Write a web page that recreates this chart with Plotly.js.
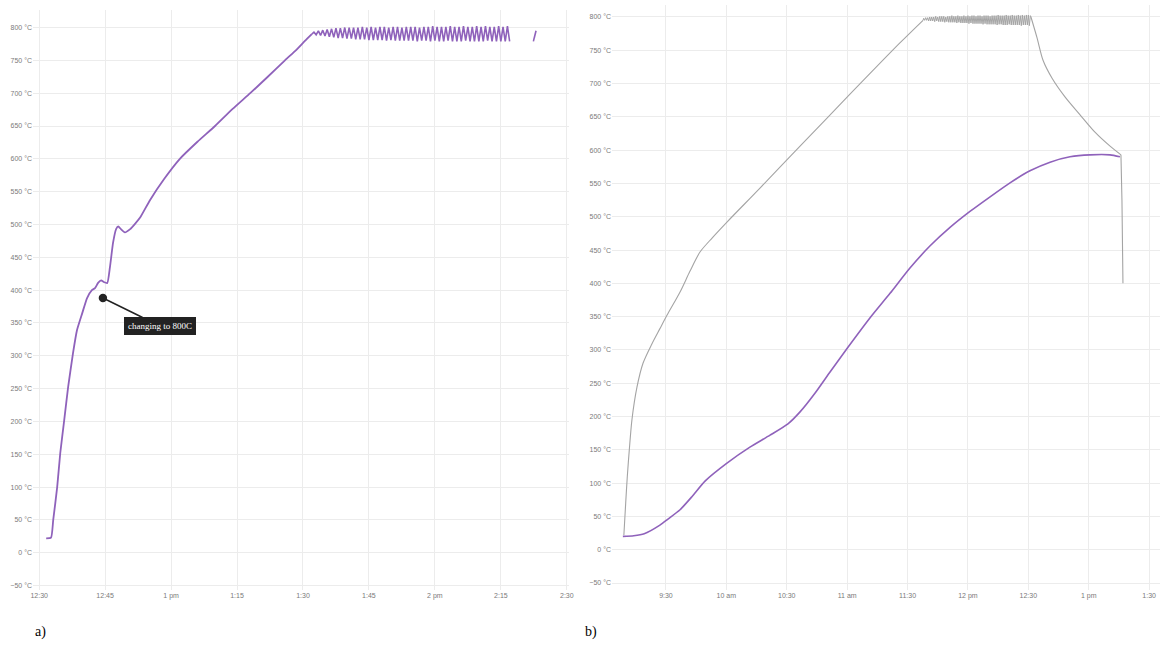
<!DOCTYPE html>
<html>
<head>
<meta charset="utf-8">
<script src="https://cdn.plot.ly/plotly-3.0.1.min.js"></script>
<style>
  html, body { margin: 0; padding: 0; background: #fff; }
  #chart { width: 1168px; height: 649px; }
</style>
</head>
<body>
<div id="chart"></div>
<script>
// ---- Run a): furnace log, minutes after 12:30 ----
const leftRampMin  = [1.6, 2.7, 3.2, 4.1, 4.8, 5.7, 6.6, 7.7, 8.6, 9.8, 10.9, 12.0, 12.7, 13.4, 14.1, 14.8, 15.5, 16.1, 16.8, 17.5, 18.0, 18.6, 19.5, 20.7, 21.8, 23.0, 25.2, 28.5, 32.0, 36.0, 40.0, 44.0, 48.0, 52.0, 55.9, 58.5, 60.5, 62.0];
const leftRampTemp = [22, 23, 50, 100, 152, 202, 253, 304, 339, 365, 388, 400, 403, 411, 415, 412, 411, 435, 472, 493, 497, 493, 488, 493, 501, 511, 537, 570, 600, 626, 650, 676, 700, 725, 750, 766, 780, 790];

const leftHoldMin = [62.5, 63, 63.5, 64, 64.5, 65, 65.5, 66, 66.5, 67, 67.5, 68, 68.5, 69, 69.5, 70, 70.5, 71, 71.5, 72, 72.5, 73, 73.5, 74, 74.5, 75, 75.5, 76, 76.5, 77, 77.5, 78, 78.5, 79, 79.5, 80, 80.5, 81, 81.5, 82, 82.5, 83, 83.5, 84, 84.5, 85, 85.5, 86, 86.5, 87, 87.5, 88, 88.5, 89, 89.5, 90, 90.5, 91, 91.5, 92, 92.5, 93, 93.5, 94, 94.5, 95, 95.5, 96, 96.5, 97, 97.5, 98, 98.5, 99, 99.5, 100, 100.5, 101, 101.5, 102, 102.5, 103, 103.5, 104, 104.5, 105, 105.5, 106, 106.5, 107];
const leftHoldTemp = [793, 789, 795, 788, 796, 787, 797, 786, 798, 785, 799, 784, 799, 784, 800, 783, 800, 783, 800, 782, 800, 782, 801, 782, 800, 781, 801, 781, 800, 781, 801, 781, 801, 780, 800, 781, 801, 780, 801, 780, 800, 780, 801, 780, 801, 780, 801, 779, 800, 780, 801, 780, 801, 779, 802, 780, 801, 779, 801, 779, 801, 780, 802, 779, 801, 779, 801, 779, 802, 780, 801, 779, 801, 779, 802, 779, 801, 779, 802, 780, 801, 779, 801, 779, 802, 779, 801, 779, 802, 779];

const leftTailMin  = [112.4, 113.0];
const leftTailTemp = [779, 795];

const leftTickMin  = [0, 15, 30, 45, 60, 75, 90, 105, 120];
const leftTickText = ['12:30', '12:45', '1 pm', '1:15', '1:30', '1:45', '2 pm', '2:15', '2:30'];

const noteMin  = 14.5;
const noteTemp = 388;
const noteText = 'changing to 800C';

// ---- Run b): furnace (grey) and sample (purple), minutes after 9:00 ----
const furnaceRampMin  = [9.1, 10.0, 10.8, 11.8, 13.1, 15.6, 18.6, 23.0, 27.0, 30.5, 37.0, 41.9, 46.9, 52.9, 60.3, 76.7, 96.6, 121.4, 146.2, 157.7];
const furnaceRampTemp = [22, 70, 110, 150, 195, 244, 280, 309, 332, 352, 387, 418, 447, 468, 492, 543, 606, 684, 761, 795];

const furnaceHoldMin = [158, 158.5, 159, 159.5, 160, 160.5, 161, 161.5, 162, 162.5, 163, 163.5, 164, 164.5, 165, 165.5, 166, 166.5, 167, 167.5, 168, 168.5, 169, 169.5, 170, 170.5, 171, 171.5, 172, 172.5, 173, 173.5, 174, 174.5, 175, 175.5, 176, 176.5, 177, 177.5, 178, 178.5, 179, 179.5, 180, 180.5, 181, 181.5, 182, 182.5, 183, 183.5, 184, 184.5, 185, 185.5, 186, 186.5, 187, 187.5, 188, 188.5, 189, 189.5, 190, 190.5, 191, 191.5, 192, 192.5, 193, 193.5, 194, 194.5, 195, 195.5, 196, 196.5, 197, 197.5, 198, 198.5, 199, 199.5, 200, 200.5, 201, 201.5, 202, 202.5, 203, 203.5, 204, 204.5, 205, 205.5, 206, 206.5, 207, 207.5, 208, 208.5, 209, 209.5, 210, 210.5, 211];
const furnaceHoldTemp = [798, 795, 799, 795, 799, 794, 800, 794, 800, 794, 800, 793, 801, 794, 800, 793, 801, 793, 801, 793, 801, 792, 800, 793, 801, 792, 801, 792, 802, 792, 801, 792, 801, 791, 802, 792, 801, 791, 801, 791, 802, 791, 801, 791, 802, 790, 801, 791, 802, 790, 802, 790, 801, 790, 802, 790, 802, 790, 801, 789, 802, 790, 802, 789, 802, 789, 801, 789, 802, 789, 802, 789, 802, 788, 803, 789, 802, 789, 802, 788, 802, 788, 803, 788, 802, 789, 802, 788, 803, 788, 802, 788, 802, 788, 803, 788, 802, 787, 803, 788, 802, 788, 803, 788, 803, 787, 802];

const furnaceCoolMin  = [211.3, 214.3, 217.3, 221.8, 228.2, 235.7, 243.1, 250.6, 256.0];
const furnaceCoolTemp = [800, 769, 735, 708, 680, 653, 627, 606, 593];

const furnaceDropMin  = [256.0, 256.5, 257.0];
const furnaceDropTemp = [593, 525, 400];

const sampleMin  = [8.6, 14.0, 19.2, 27.0, 31.0, 37.0, 43.0, 49.4, 60.3, 71.7, 81.7, 90.6, 96.6, 104.0, 111.5, 120.4, 131.3, 141.3, 151.2, 161.1, 171.1, 181.0, 191.0, 200.9, 210.8, 220.8, 230.7, 240.6, 250.6, 255.5];
const sampleTemp = [20, 21, 24, 37, 46, 60, 80, 103, 130, 154, 172, 189, 207, 235, 267, 304, 348, 385, 423, 456, 484, 508, 530, 551, 569, 582, 590, 593, 593, 590];

const rightTickMin  = [30, 60, 90, 120, 150, 180, 210, 240, 270];
const rightTickText = ['9:30', '10 am', '10:30', '11 am', '11:30', '12 pm', '12:30', '1 pm', '1:30'];

// ---- helpers ----
const LEFT_START  = Date.UTC(2020, 0, 1, 12, 30);
const RIGHT_START = Date.UTC(2020, 0, 1, 9, 0);
const at = (start, m) => (m === null ? null : start + m * 60000);
const last = a => a[a.length - 1];

const W = 1168, H = 649;
const px = v => v / W;
const py = v => 1 - v / H;

const PURPLE = '#8f62bb';
const GREY = '#a4a4a4';
const GRID = '#ececec';
const tickFont = { family: 'Liberation Sans, Arial, sans-serif', size: 7, color: '#7a7a7a' };

function lineTrace(mins, temps, start, axis, color, width, smooth) {
  const line = { color: color, width: width };
  if (smooth) { line.shape = 'spline'; line.smoothing = smooth; }
  return {
    x: mins.map(m => at(start, m)), y: temps,
    xaxis: axis[0], yaxis: axis[1],
    type: 'scatter', mode: 'lines', line: line,
    hoverinfo: 'skip', showlegend: false
  };
}

const A = ['x', 'y'], B = ['x2', 'y2'];

const traces = [
  // run a)
  lineTrace(leftRampMin, leftRampTemp, LEFT_START, A, PURPLE, 1.8, 0.5),
  lineTrace([last(leftRampMin)].concat(leftHoldMin, [null], leftTailMin),
            [last(leftRampTemp)].concat(leftHoldTemp, [null], leftTailTemp),
            LEFT_START, A, PURPLE, 1.6, 0),
  // run b) furnace
  lineTrace(furnaceRampMin, furnaceRampTemp, RIGHT_START, B, GREY, 1.1, 0.8),
  lineTrace([last(furnaceRampMin)].concat(furnaceHoldMin, [furnaceCoolMin[0]]),
            [last(furnaceRampTemp)].concat(furnaceHoldTemp, [furnaceCoolTemp[0]]),
            RIGHT_START, B, GREY, 1.0, 0),
  lineTrace(furnaceCoolMin, furnaceCoolTemp, RIGHT_START, B, GREY, 1.1, 0.8),
  lineTrace(furnaceDropMin, furnaceDropTemp, RIGHT_START, B, GREY, 1.1, 0),
  // run b) sample
  lineTrace(sampleMin, sampleTemp, RIGHT_START, B, PURPLE, 1.6, 0.6)
];

const xCommon = {
  type: 'date', showgrid: true, gridcolor: GRID, gridwidth: 1,
  zeroline: false, showline: false, ticks: '', tickfont: tickFont,
  tickmode: 'array', fixedrange: true
};
const yCommon = {
  showgrid: true, gridcolor: GRID, gridwidth: 1,
  zeroline: false, showline: false, ticks: '', tickfont: tickFont,
  tickmode: 'linear', tick0: 0, dtick: 50, ticksuffix: ' °C', fixedrange: true
};

const layout = {
  width: W, height: H,
  margin: { l: 0, r: 0, t: 0, b: 0 },
  paper_bgcolor: '#ffffff', plot_bgcolor: '#ffffff',
  showlegend: false,
  xaxis: Object.assign({}, xCommon, {
    domain: [px(33), px(569)], anchor: 'y',
    range: [at(LEFT_START, -1.4), at(LEFT_START, 120.5)],
    tickvals: leftTickMin.map(m => at(LEFT_START, m)), ticktext: leftTickText
  }),
  yaxis: Object.assign({}, yCommon, {
    domain: [py(590), py(10)], anchor: 'x',
    range: [-56.7, 826.7]
  }),
  xaxis2: Object.assign({}, xCommon, {
    domain: [px(612), px(1160)], anchor: 'y2',
    range: [at(RIGHT_START, 3.2), at(RIGHT_START, 275.4)],
    tickvals: rightTickMin.map(m => at(RIGHT_START, m)), ticktext: rightTickText
  }),
  yaxis2: Object.assign({}, yCommon, {
    domain: [py(590), py(5)], anchor: 'x2',
    range: [-60.5, 818]
  }),
  annotations: [
    {
      xref: 'x', yref: 'y', x: at(LEFT_START, noteMin), y: noteTemp,
      text: noteText, showarrow: true,
      arrowhead: 6, arrowsize: 1.4, arrowwidth: 1.5, arrowcolor: '#222',
      ax: 57, ay: 28,
      bgcolor: '#222', bordercolor: '#222', borderpad: 3,
      font: { family: 'Liberation Serif, Times New Roman, serif', size: 9, color: '#ffffff' }
    },
    {
      xref: 'paper', yref: 'paper', x: px(33), y: py(632),
      xanchor: 'left', yanchor: 'middle', showarrow: false, text: 'a)',
      font: { family: 'Liberation Serif, Times New Roman, serif', size: 14, color: '#000' }
    },
    {
      xref: 'paper', yref: 'paper', x: px(583), y: py(632),
      xanchor: 'left', yanchor: 'middle', showarrow: false, text: 'b)',
      font: { family: 'Liberation Serif, Times New Roman, serif', size: 14, color: '#000' }
    }
  ]
};

Plotly.newPlot('chart', traces, layout, { staticPlot: true, displayModeBar: false });
</script>
</body>
</html>
